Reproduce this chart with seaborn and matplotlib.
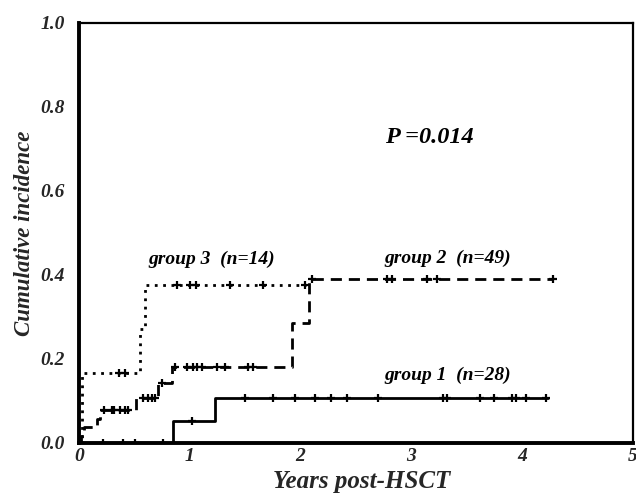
import numpy as np
import pandas as pd
import matplotlib
matplotlib.use("Agg")
import matplotlib.pyplot as plt
import seaborn as sns

# step curves (time in years, cumulative incidence)
g1_times = [0, 0.85, 1.23, 4.23]
g1_vals = [0, 0.053, 0.108, 0.108]
g1_cens = [0.22, 0.40, 0.51, 0.76, 1.02, 1.50, 1.75, 1.95, 2.13, 2.28, 2.42, 2.70,
           3.29, 3.32, 3.62, 3.75, 3.91, 3.95, 4.04, 4.22]

g2_times = [0, 0.02, 0.05, 0.16, 0.19, 0.52, 0.71, 0.84, 1.92, 2.08, 4.28]
g2_vals = [0, 0.017, 0.037, 0.057, 0.079, 0.108, 0.143, 0.18, 0.285, 0.39, 0.39]
g2_cens = [0.23, 0.30, 0.32, 0.37, 0.42, 0.44, 0.58, 0.62, 0.66, 0.69, 0.75, 0.87,
           0.98, 1.03, 1.07, 1.11, 1.25, 1.32, 1.53, 1.57, 2.10, 2.78, 2.83, 3.14,
           3.23, 4.28]

g3_times = [0, 0.03, 0.55, 0.60, 2.05]
g3_vals = [0, 0.167, 0.27, 0.375, 0.375]
g3_cens = [0.36, 0.42, 0.89, 1.00, 1.06, 1.36, 1.66, 2.04]

labels = ["group 1  (n=28)", "group 2  (n=49)", "group 3  (n=14)"]

sns.set_style("white")
plt.rcParams['font.family'] = ['Liberation Serif', 'DejaVu Serif']

fig = plt.figure(figsize=(6.36, 4.96), dpi=100)
ax = fig.add_axes([0.124, 0.107, 0.871, 0.847])

groups = [
    (g1_times, g1_vals, g1_cens, "-"),
    (g2_times, g2_vals, g2_cens, (0, (4, 2.5))),
    (g3_times, g3_vals, g3_cens, (0, (1, 2))),
]

for times, vals, cens, ls in groups:
    df = pd.DataFrame({"t": times, "y": vals})
    sns.lineplot(data=df, x="t", y="y", drawstyle="steps-post", color="black",
                 linewidth=2, linestyle=ls, ax=ax, estimator=None, sort=False)
    # censored points sit on the step curve
    idx = np.searchsorted(times, cens, side="right") - 1
    cdf = pd.DataFrame({"t": cens, "y": np.array(vals)[idx]})
    sns.scatterplot(data=cdf, x="t", y="y", marker="+", s=40, color="black",
                    linewidth=1.6, ax=ax, zorder=3)

txt = dict(fontweight="bold", fontstyle="italic", color="black")
ax.text(2.76, 0.726, "P =0.014", fontsize=17.5, va="center", **txt)
ax.text(0.63, 0.436, labels[2], fontsize=14, va="center", **txt)
ax.text(2.76, 0.44, labels[1], fontsize=14, va="center", **txt)
ax.text(2.76, 0.162, labels[0], fontsize=14, va="center", **txt)

ax.set_xlim(0, 5)
ax.set_ylim(0, 1.0)
ax.set_xticks([0, 1, 2, 3, 4, 5])
ax.set_yticks([0.0, 0.2, 0.4, 0.6, 0.8, 1.0])
ax.set_yticks(np.arange(0.1, 1.0, 0.2), minor=True)
ax.set_yticklabels(["0.0", "0.2", "0.4", "0.6", "0.8", "1.0"])
ax.tick_params(axis="both", which="both", direction="in", length=3, width=1.5,
               labelsize=14)
ax.tick_params(axis="x", pad=4)
ax.tick_params(axis="y", pad=10)
for lab in ax.get_xticklabels() + ax.get_yticklabels():
    lab.set_fontweight("bold")
    lab.set_fontstyle("italic")

ax.set_xlabel("Years post-HSCT", fontsize=18, fontstyle="italic",
              fontweight="bold", labelpad=0)
ax.set_ylabel("Cumulative incidence", fontsize=16.5, fontstyle="italic",
              fontweight="bold", labelpad=4)
ax.xaxis.set_label_coords(0.51, -0.065)

for side in ["left", "bottom"]:
    ax.spines[side].set_linewidth(2.8)
for side in ["top", "right"]:
    ax.spines[side].set_linewidth(1.6)
for sp in ax.spines.values():
    sp.set_color("black")
    sp.set_visible(True)

fig.savefig("out.png", dpi=100)
